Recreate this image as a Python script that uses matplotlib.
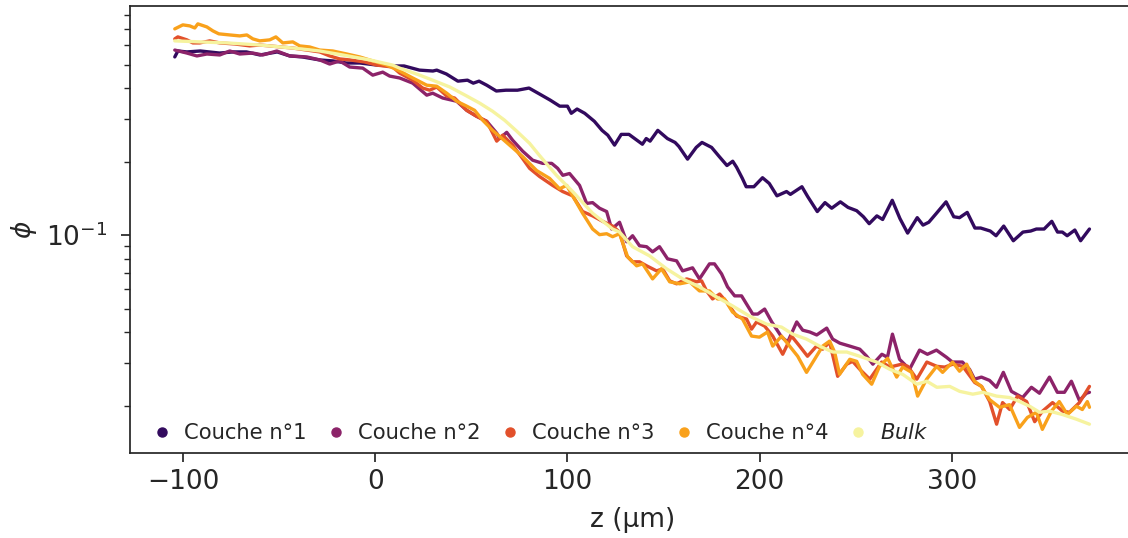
import matplotlib
matplotlib.use("Agg")
import matplotlib.pyplot as plt
from matplotlib.lines import Line2D
from matplotlib.ticker import NullFormatter

# profiles: z (um) and phi
z1 = [-104.3, -102.7, -98, -91, -81, -74, -67, -60, -51, -44.5, -38, -29, -22, -15, -8, 1, 9, 15,
      23, 30, 32, 37, 43, 48, 51, 54, 58, 63, 68, 74, 80, 85.5, 91, 96, 100, 102, 105, 109, 114, 118,
      121, 124.5, 128, 132, 139, 141, 143, 147, 152, 156, 158, 162.5, 167, 170, 175, 179, 183, 186,
      188, 191, 193, 197, 201.5, 205, 209, 214, 216, 222, 225, 230, 234, 237.5, 242, 246, 250.5, 254,
      257, 261, 264, 269, 273, 277, 282, 285, 288, 292, 297, 301, 304, 308, 312, 315, 320, 323, 327,
      332, 337, 341, 344, 348, 352, 355, 357.5, 360, 364, 367, 371.6]
phi1 = [0.538, 0.569, 0.564, 0.569, 0.558, 0.564, 0.564, 0.548, 0.564, 0.543, 0.538, 0.523, 0.518,
        0.508, 0.508, 0.498, 0.494, 0.494, 0.475, 0.471, 0.475, 0.458, 0.428, 0.432, 0.420, 0.428,
        0.412, 0.390, 0.393, 0.393, 0.401, 0.379, 0.358, 0.338, 0.338, 0.316, 0.329, 0.316, 0.293,
        0.269, 0.257, 0.234, 0.259, 0.259, 0.236, 0.249, 0.243, 0.269, 0.249, 0.240, 0.231, 0.205,
        0.229, 0.240, 0.229, 0.210, 0.193, 0.201, 0.190, 0.171, 0.158, 0.158, 0.172, 0.163, 0.145,
        0.151, 0.147, 0.158, 0.144, 0.125, 0.136, 0.129, 0.137, 0.130, 0.126, 0.119, 0.1115, 0.120,
        0.116, 0.139, 0.117, 0.102, 0.118, 0.110, 0.113, 0.123, 0.137, 0.119, 0.118, 0.124, 0.107,
        0.107, 0.104, 0.0995, 0.109, 0.0949, 0.103, 0.104, 0.106, 0.106, 0.114, 0.103, 0.103, 0.0995,
        0.105, 0.0949, 0.106]

z2 = [-104.3, -98, -92.8, -87.6, -80.9, -75.7, -70.5, -63.7, -58.5, -51.2, -44.5, -35.6, -28.9,
      -23.7, -18.5, -13.3, -6.5, -1.3, 3.9, 7.5, 12.7, 19.5, 26.8, 29.9, 35.1, 42.4, 47.6, 52.8, 58.0,
      63.2, 64.7, 68.4, 71.5, 76.7, 81.9, 87.1, 91.8, 94.9, 97.6, 101.1, 106.3, 110.0, 113.1, 116.7,
      120.4, 123.0, 127.1, 130.8, 133.9, 137.5, 141.2, 144.3, 147.9, 152.1, 156.8, 159.9, 165.1,
      168.7, 173.9, 176.5, 180.2, 183.3, 187.0, 190.6, 193.2, 196.4, 199.0, 202.6, 206.3, 211.5,
      214.6, 219.3, 222.4, 226.1, 229.7, 234.9, 238.0, 241.7, 246.9, 252.1, 255.7, 258.9, 263.6,
      266.5, 269.1, 272.8, 278.0, 283.2, 287.3, 292.0, 297.2, 300.3, 305.5, 309.2, 311.8, 315.4,
      319.6, 323.2, 326.8, 331.0, 336.8, 341.4, 345.6, 350.8, 354.9, 358.6, 362.2, 366.4, 370.0, 371.6]
phi2 = [0.574, 0.558, 0.543, 0.553, 0.548, 0.569, 0.553, 0.558, 0.548, 0.569, 0.543, 0.538, 0.523,
        0.503, 0.518, 0.489, 0.484, 0.453, 0.466, 0.449, 0.441, 0.420, 0.375, 0.382, 0.365, 0.354,
        0.325, 0.307, 0.293, 0.262, 0.249, 0.264, 0.245, 0.221, 0.203, 0.197, 0.197, 0.188, 0.176,
        0.179, 0.160, 0.135, 0.136, 0.129, 0.125, 0.106, 0.113, 0.094, 0.0995, 0.0905, 0.0897,
        0.0855, 0.0897, 0.0800, 0.0785, 0.0714, 0.0735, 0.0662, 0.0763, 0.0763, 0.0694, 0.0614,
        0.0564, 0.0564, 0.0522, 0.0475, 0.0475, 0.0498, 0.0441, 0.0382, 0.0365, 0.0441, 0.0408,
        0.0401, 0.0390, 0.0416, 0.0375, 0.0361, 0.0351, 0.0341, 0.0319, 0.0296, 0.0325, 0.0316,
        0.0393, 0.0310, 0.0282, 0.0338, 0.0325, 0.0338, 0.0316, 0.0302, 0.0302, 0.0282, 0.0257,
        0.0262, 0.0254, 0.0238, 0.0274, 0.0229, 0.0216, 0.0238, 0.0225, 0.0262, 0.0227, 0.0227,
        0.0252, 0.0210, 0.0225, 0.0227]

z3 = [-104.3, -102.7, -98, -94.9, -91.3, -86.1, -80.9, -73.1, -65.3, -60.1, -42.9, -28.9, -23.7,
      -18.5, -13.3, -5.5, 0.8, 9.1, 12.7, 19.5, 24.7, 28.3, 32.0, 37.2, 41.3, 47.6, 52.8, 58.0, 63.2,
      66.3, 71.5, 76.7, 80.3, 85.5, 92.3, 97.5, 102.7, 107.9, 113.1, 118.3, 123.5, 127.1, 130.8,
      133.9, 137.5, 141.2, 146.4, 149.5, 153.2, 156.8, 162.0, 167.2, 169.8, 172.4, 175.5, 179.2,
      182.8, 188.0, 193.2, 195.8, 198.4, 202.6, 206.8, 212.0, 216.6, 220.8, 224.9, 229.6, 232.8,
      236.4, 240.6, 245.3, 248.4, 252.1, 257.3, 263.5, 267.7, 273.9, 277.1, 281.8, 287.0, 292.2,
      296.3, 300.5, 305.7, 311.9, 315.5, 319.7, 323.3, 326.4, 330.1, 334.2, 338.9, 343.1, 347.2,
      352.4, 357.6, 361.2, 366.4, 371.6]
phi3 = [0.638, 0.650, 0.632, 0.614, 0.614, 0.626, 0.614, 0.608, 0.597, 0.602, 0.585, 0.564, 0.543,
        0.528, 0.523, 0.513, 0.498, 0.489, 0.462, 0.432, 0.401, 0.393, 0.405, 0.372, 0.365, 0.325,
        0.307, 0.293, 0.243, 0.257, 0.234, 0.206, 0.188, 0.174, 0.160, 0.151, 0.145, 0.125, 0.120,
        0.114, 0.109, 0.103, 0.0823, 0.0778, 0.0778, 0.0749, 0.0714, 0.0728, 0.0650, 0.0632,
        0.0662, 0.0644, 0.0650, 0.0591, 0.0548, 0.0574, 0.0532, 0.0466, 0.0453, 0.0412, 0.0441,
        0.0424, 0.0386, 0.0325, 0.0386, 0.0351, 0.0319, 0.0351, 0.0341, 0.0365, 0.0264, 0.0296,
        0.0304, 0.0282, 0.0257, 0.0302, 0.0288, 0.0296, 0.0290, 0.0257, 0.0302, 0.0290, 0.0288,
        0.0296, 0.0290, 0.0249, 0.0240, 0.0208, 0.0168, 0.0206, 0.0193, 0.0219, 0.0208, 0.0172,
        0.0190, 0.0206, 0.0190, 0.0188, 0.0206, 0.0240]

z4 = [-104.3, -100.1, -96.5, -93.9, -92.3, -87.6, -84.5, -81.4, -75.7, -70.5, -66.8, -63.7, -60.1,
      -54.9, -51.7, -48.1, -42.9, -39.3, -34.1, -28.9, -22.1, -14.8, -8.1, -1.3, 6.0, 12.7, 19.5,
      26.8, 32.0, 37.2, 42.4, 47.6, 51.7, 55.9, 61.1, 69.9, 76.7, 84.0, 90.7, 95.9, 99.6, 102.7,
      107.9, 113.1, 116.7, 120.4, 123.5, 127.1, 131.3, 136.0, 139.1, 144.3, 148.9, 153.2, 158.4,
      163.6, 168.7, 173.9, 178.1, 181.7, 185.9, 191.1, 195.8, 199.9, 204.1, 206.8, 211.4, 215.6,
      219.8, 224.4, 228.6, 232.8, 236.4, 239.0, 241.6, 246.9, 250.5, 253.6, 258.3, 262.4, 266.6,
      271.3, 274.4, 279.1, 282.2, 286.9, 292.1, 295.2, 300.4, 304.0, 307.7, 311.8, 315.4, 319.6,
      324.8, 330.0, 335.2, 339.3, 344.0, 347.1, 351.8, 355.9, 360.1, 364.8, 367.9, 370.5, 371.6]
phi4 = [0.701, 0.728, 0.721, 0.707, 0.735, 0.714, 0.688, 0.669, 0.662, 0.656, 0.662, 0.638, 0.626,
        0.632, 0.650, 0.614, 0.620, 0.597, 0.591, 0.574, 0.569, 0.553, 0.538, 0.518, 0.498, 0.471,
        0.441, 0.412, 0.408, 0.382, 0.354, 0.338, 0.325, 0.296, 0.269, 0.234, 0.210, 0.184, 0.171,
        0.155, 0.160, 0.145, 0.123, 0.106, 0.1005, 0.1014, 0.0986, 0.1014, 0.0816, 0.0749, 0.0763,
        0.0662, 0.0728, 0.0644, 0.0632, 0.0644, 0.0591, 0.0591, 0.0548, 0.0548, 0.0484, 0.0453,
        0.0386, 0.0382, 0.0401, 0.0351, 0.0386, 0.0351, 0.0319, 0.0274, 0.0310, 0.0351, 0.0368,
        0.0332, 0.0269, 0.0310, 0.0304, 0.0269, 0.0245, 0.0290, 0.0313, 0.0262, 0.0288, 0.0274,
        0.0219, 0.0257, 0.0290, 0.0274, 0.0302, 0.0277, 0.0296, 0.0252, 0.0240, 0.0212, 0.0197,
        0.0202, 0.0163, 0.0179, 0.0188, 0.0160, 0.0190, 0.0208, 0.0184, 0.0199, 0.0193, 0.0208,
        0.0197]

z_bulk = [-104.3, -91.3, -77.2, -60.1, -42.9, -28.9, -16.9, -2.9, 9.1, 12.7, 23.1, 29.9, 38.8, 47.6,
          54.3, 61.1, 67.3, 73.6, 80.3, 85.5, 94.3, 102.7, 113.1, 123.5, 127.1, 133.9, 142.7, 151.6,
          159.9, 168.7, 177.6, 185.9, 194.7, 203.6, 211.4, 217.2, 224.4, 231.2, 238.0, 245.3, 252.0,
          260.9, 267.7, 274.4, 281.8, 287.0, 292.2, 298.9, 304.1, 310.9, 316.1, 323.3, 330.1, 335.3,
          340.5, 345.6, 350.8, 357.6, 364.9, 371.6]
phi_bulk = [0.626, 0.620, 0.614, 0.602, 0.585, 0.569, 0.548, 0.523, 0.498, 0.484, 0.453, 0.432,
            0.405, 0.372, 0.348, 0.322, 0.296, 0.267, 0.238, 0.212, 0.176, 0.151, 0.123, 0.106,
            0.103, 0.0897, 0.0823, 0.0728, 0.0662, 0.0614, 0.0558, 0.0513, 0.0466, 0.0432, 0.0420,
            0.0393, 0.0375, 0.0351, 0.0332, 0.0332, 0.0319, 0.0302, 0.0282, 0.0269, 0.0245, 0.0252,
            0.0238, 0.0240, 0.0229, 0.0223, 0.0227, 0.0219, 0.0216, 0.0208, 0.0199, 0.0188, 0.0190,
            0.0184, 0.0176, 0.0168]

labels = ["Couche n°1", "Couche n°2", "Couche n°3", "Couche n°4", "$Bulk$"]
colors = ["#320a5e", "#8c2369", "#e2502b", "#f9a11b", "#f6f39f"]
x_ticks = [-100, 0, 100, 200, 300]

dark = "#262626"
plt.rcParams["font.family"] = ["DejaVu Sans"]
plt.rcParams["text.color"] = dark
plt.rcParams["axes.labelcolor"] = dark
plt.rcParams["xtick.color"] = dark
plt.rcParams["ytick.color"] = dark

fig = plt.figure(figsize=(11.28, 5.38), dpi=100)
ax = fig.add_axes([130 / 1128, 85 / 538, 1005 / 1128, 447 / 538])

series = [(z1, phi1), (z2, phi2), (z3, phi3), (z4, phi4), (z_bulk, phi_bulk)]
for (z, phi), color in zip(series, colors):
    ax.plot(z, phi, color=color, linewidth=2.4, solid_joinstyle="round", solid_capstyle="round")

ax.set_yscale("log")
ax.set_xlim(-127.6, 395.3)
ax.set_ylim(0.0128, 0.87)
ax.set_xticks(x_ticks)
ax.yaxis.set_minor_formatter(NullFormatter())

for spine in ax.spines.values():
    spine.set_linewidth(1.25)
    spine.set_color(dark)
ax.tick_params(axis="both", which="major", labelsize=19, length=6.25, width=1.25, pad=5)
ax.tick_params(axis="y", which="major", pad=10)
ax.tick_params(axis="y", which="minor", length=4, width=1.0)

ax.set_xlabel("z (µm)", fontsize=19, labelpad=9)
ax.set_ylabel(r"$\phi$", fontsize=19, labelpad=5)

handles = [Line2D([], [], marker="o", linestyle="", color=c, markersize=6.5) for c in colors]
ax.legend(handles, labels, loc="lower left", ncol=5, frameon=False, fontsize=15.2,
          handlelength=0.8, handletextpad=0.64, columnspacing=1.0,
          borderaxespad=0.3, bbox_to_anchor=(0.009, -0.011))

fig.savefig("out.png", dpi=100)
